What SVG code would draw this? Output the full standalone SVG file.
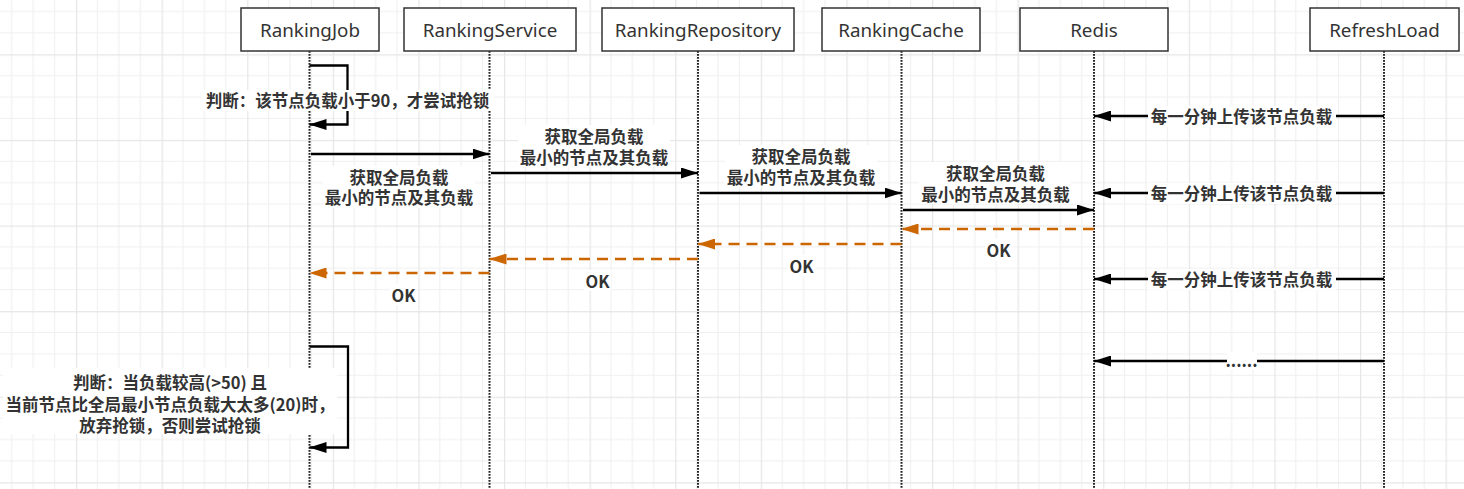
<svg xmlns="http://www.w3.org/2000/svg" width="1464" height="489" viewBox="0 0 1464 489">
<style>
.hdr{fill:#fff;stroke:#333;stroke-width:1.5}
.hdrt{font-family:"Noto Sans","Open Sans",sans-serif;font-size:18.8px;fill:#333;text-anchor:middle}
.life{stroke:#222;stroke-width:2;stroke-dasharray:1.8 1.2;fill:none}
.msg{stroke:#000;stroke-width:2.3;fill:none}
.ret{stroke:#cc6600;stroke-width:2.3;fill:none;stroke-dasharray:11 7}
.lbl{font-family:"Noto Sans CJK SC","Noto Sans",sans-serif;font-weight:700;font-size:16.5px;fill:#333;text-anchor:middle;dominant-baseline:central}
.bg{fill:#fff}
</style>
<defs>
<pattern id="grid" patternUnits="userSpaceOnUse" x="-9.6" y="-31.3" width="85.6" height="85.6">
<path d="M21.4 0V85.6M42.8 0V85.6M64.2 0V85.6M0 21.4H85.6M0 42.8H85.6M0 64.2H85.6" stroke="#f0f0f0" stroke-width="1.2" fill="none"/>
<path d="M0.6 0V85.6M0 0.6H85.6" stroke="#e6e6e6" stroke-width="1.2" fill="none"/>
</pattern>
<marker id="ab" viewBox="0 0 17 11" refX="17" refY="5.5" markerWidth="17" markerHeight="11" markerUnits="userSpaceOnUse" orient="auto">
<path d="M0,0 L17,5.5 L0,11 z" fill="#000"/>
</marker>
<marker id="ao" viewBox="0 0 17 11" refX="17" refY="5.5" markerWidth="17" markerHeight="11" markerUnits="userSpaceOnUse" orient="auto">
<path d="M0,0 L17,5.5 L0,11 z" fill="#cc6600"/>
</marker>
</defs>
<rect width="1464" height="489" fill="#fff"/>
<rect width="1464" height="489" fill="url(#grid)"/>

<g id="lifelines">
<path class="life" d="M309.5,51V489"/>
<path class="life" d="M489.5,51V489"/>
<path class="life" d="M698,51V489"/>
<path class="life" d="M901.5,51V489"/>
<path class="life" d="M1094,51V489"/>
<path class="life" d="M1384,51V489"/>
</g>

<g id="connectors">
<path class="msg" d="M309.5,65.5H347.5V124.5H309.5" marker-end="url(#ab)"/>
<path class="msg" d="M311,154H489.5" marker-end="url(#ab)"/>
<path class="msg" d="M491,173H698" marker-end="url(#ab)"/>
<path class="msg" d="M699.5,193H901.5" marker-end="url(#ab)"/>
<path class="msg" d="M903,210H1094" marker-end="url(#ab)"/>
<path class="ret" d="M1094,229H901.5" marker-end="url(#ao)"/>
<path class="ret" d="M901.5,244H698" marker-end="url(#ao)"/>
<path class="ret" d="M698,259H489.5" marker-end="url(#ao)"/>
<path class="ret" d="M489.5,273H309.5" marker-end="url(#ao)"/>
<path class="msg" d="M1384,116H1094" marker-end="url(#ab)"/>
<path class="msg" d="M1384,193H1094" marker-end="url(#ab)"/>
<path class="msg" d="M1384,279H1094" marker-end="url(#ab)"/>
<path class="msg" d="M1384,361H1094" marker-end="url(#ab)"/>
<path class="msg" d="M309.5,346.5H348V447.5H309.5" marker-end="url(#ab)"/>
</g>

<g id="labels">
<rect class="bg" x="201" y="90" width="293" height="21"/>
<text class="lbl" x="347.5" y="100">判断：该节点负载小于90，才尝试抢锁</text>

<rect class="bg" x="323" y="166" width="152" height="42"/>
<text class="lbl" x="399" y="176.5">获取全局负载<tspan x="399" dy="20.5">最小的节点及其负载</tspan></text>

<rect class="bg" x="518" y="125" width="152" height="42"/>
<text class="lbl" x="594" y="135.5">获取全局负载<tspan x="594" dy="21">最小的节点及其负载</tspan></text>

<rect class="bg" x="725" y="145" width="152" height="42"/>
<text class="lbl" x="801" y="155.5">获取全局负载<tspan x="801" dy="21">最小的节点及其负载</tspan></text>

<rect class="bg" x="919" y="162" width="152" height="42"/>
<text class="lbl" x="995.5" y="172.5">获取全局负载<tspan x="995.5" dy="21">最小的节点及其负载</tspan></text>

<rect class="bg" x="985" y="239" width="27" height="21"/>
<text class="lbl" x="998.5" y="249.5">OK</text>
<rect class="bg" x="788" y="255" width="27" height="21"/>
<text class="lbl" x="801.5" y="265.5">OK</text>
<rect class="bg" x="584" y="270" width="27" height="21"/>
<text class="lbl" x="597.5" y="280.5">OK</text>
<rect class="bg" x="390" y="284" width="27" height="21"/>
<text class="lbl" x="403.5" y="294.5">OK</text>

<rect class="bg" x="1148" y="106" width="188" height="21"/>
<text class="lbl" x="1241.5" y="116">每一分钟上传该节点负载</text>
<rect class="bg" x="1148" y="183" width="188" height="21"/>
<text class="lbl" x="1241.5" y="193">每一分钟上传该节点负载</text>
<rect class="bg" x="1148" y="269" width="188" height="21"/>
<text class="lbl" x="1241.5" y="279">每一分钟上传该节点负载</text>
<rect class="bg" x="1227" y="352" width="30" height="18"/>
<text class="lbl" x="1241.5" y="360">......</text>

<rect class="bg" x="3" y="368" width="334" height="66"/>
<text class="lbl" x="170" y="382">判断：当负载较高(&gt;50) 且<tspan x="170" dy="21.5">当前节点比全局最小节点负载大太多(20)时，</tspan><tspan x="170" dy="21.5">放弃抢锁，否则尝试抢锁</tspan></text>
</g>

<g id="RankingJob"><rect class="hdr" x="241" y="8" width="138" height="43"/><text class="hdrt" x="310" y="36.5">RankingJob</text></g>
<g id="RankingService"><rect class="hdr" x="404" y="8" width="172" height="43"/><text class="hdrt" x="490" y="36.5">RankingService</text></g>
<g id="RankingRepository"><rect class="hdr" x="602" y="8" width="192" height="43"/><text class="hdrt" x="698" y="36.5">RankingRepository</text></g>
<g id="RankingCache"><rect class="hdr" x="822" y="8" width="158" height="43"/><text class="hdrt" x="901" y="36.5">RankingCache</text></g>
<g id="Redis"><rect class="hdr" x="1020" y="8" width="148" height="43"/><text class="hdrt" x="1094" y="36.5">Redis</text></g>
<g id="RefreshLoad"><rect class="hdr" x="1310" y="8" width="149" height="43"/><text class="hdrt" x="1384.5" y="36.5">RefreshLoad</text></g>
</svg>
